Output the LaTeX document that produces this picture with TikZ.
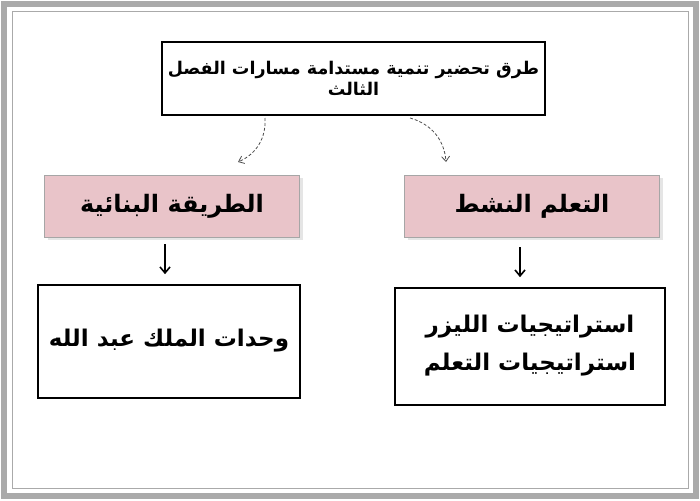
\documentclass[tikz,border=0pt]{standalone}
\usepackage{fontspec}
\newfontfamily\arabicfont[Script=Arabic]{DejaVu Sans}
\TeXXeTstate=1
\usetikzlibrary{arrows.meta,shadows}
\definecolor{framegray}{RGB}{170,170,170}
\definecolor{pinkfill}{RGB}{233,196,201}
\tikzset{
  headbox/.style={draw=gray!70,fill=pinkfill,minimum width=255pt,minimum height=62pt,
    drop shadow={shadow xshift=3pt,shadow yshift=-3pt,fill=gray!40},font=\arabicfont\bfseries\fontsize{24}{28}\selectfont},
  leafbox/.style={draw,line width=2pt,fill=white,align=center,
    font=\arabicfont\bfseries\fontsize{23}{38}\selectfont},
  downarrow/.style={-{Straight Barb[length=6pt,width=10pt]},line width=1.6pt},
  dasharrow/.style={densely dashed,thick,-{Straight Barb[length=5pt,width=8pt]},gray!60!black}
}
\begin{document}
\begin{tikzpicture}[x=1pt,y=-1pt]
\useasboundingbox (0,0) rectangle (700,500);
\fill[white] (0,0) rectangle (700,500);
\draw[framegray,line width=6pt] (4,4) rectangle (696,496);
\draw[framegray,line width=1pt] (12,12) rectangle (688,488);
% top
\node[draw,line width=1.5pt,fill=white,minimum width=383pt,minimum height=73pt,inner xsep=2pt,align=center,
  font=\arabicfont\bfseries\fontsize{17.5}{23}\selectfont] (title) at (353.5,78.5)
  {\beginR طرق تحضير تنمية مستدامة مسارات الفصل\endR\\[-2pt]\beginR الثالث\endR};
% middle
\node[headbox] (left) at (172,206) {\beginR الطريقة البنائية\endR};
\node[headbox] (right) at (532,206) {\beginR التعلم النشط\endR};
\draw[dasharrow] (265,118) coordinate (tl) to[bend left=35] (238,162) coordinate (tlend);
\draw[dasharrow] (410,118) coordinate (tr) to[bend left=35] (446,162) coordinate (trend);
% bottom
\node[leafbox,minimum width=262pt,minimum height=113pt] (leftleaf) at (169,341)
  {\beginR وحدات الملك عبد الله\endR};
\node[leafbox,minimum width=270pt,minimum height=117pt] (rightleaf) at (530,346)
  {\beginR استراتيجيات الليزر\endR\\\beginR استراتيجيات التعلم\endR};
\draw[downarrow] ([xshift=-7pt]left.south) ++(0,7) -- ++(0,30);
\draw[downarrow] ([xshift=-12pt]right.south) ++(0,10) -- ++(0,30);
\end{tikzpicture}
\end{document}
